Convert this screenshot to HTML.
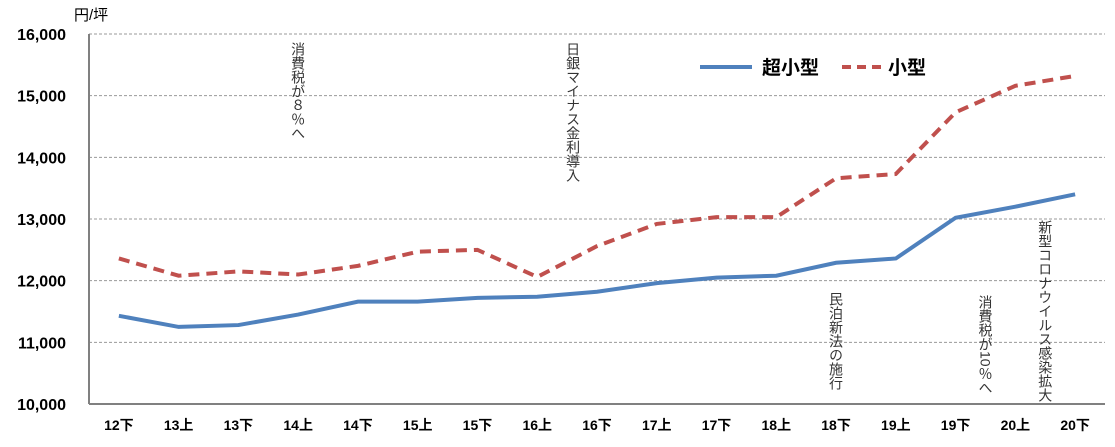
<!DOCTYPE html>
<html><head><meta charset="utf-8"><style>
body{margin:0;background:#fff;}
svg text{font-family:"Liberation Sans","Noto Sans CJK JP",sans-serif;}
.vt{writing-mode:vertical-rl;font-size:14px;fill:#333;}
</style></head><body>
<svg id="c" width="1115" height="442" xmlns="http://www.w3.org/2000/svg"></svg>
<script>
const categories=["12下","13上","13下","14上","14下","15上","15下","16上","16下","17上","17下","18上","18下","19上","19下","20上","20下"];
const superSmall=[11430,11250,11280,11450,11660,11660,11720,11740,11820,11960,12050,12080,12290,12360,13020,13200,13400];
const small=[12360,12080,12150,12100,12240,12470,12500,12060,12560,12920,13030,13030,13660,13730,14730,15160,15320];
const yTicks=[10000,11000,12000,13000,14000,15000,16000];
const yTickLabels=["10,000","11,000","12,000","13,000","14,000","15,000","16,000"];
const notes=[["消費税が８％へ",3.0,42],["日銀マイナス金利導入",7.6,42],["民泊新法の施行",12.0,292],["消費税が10％へ",14.5,295],["新型コロナウイルス感染拡大",15.5,220]];
const NS="http://www.w3.org/2000/svg",svg=document.getElementById('c');
const L=89,R=1105,T=34,B=404,ymin=10000,ymax=16000;
const bw=(R-L)/categories.length;
const x=i=>L+bw*(i+0.5);
const y=v=>B-(v-ymin)/(ymax-ymin)*(B-T);
function mk(t,a,p){const e=document.createElementNS(NS,t);for(const k in a)e.setAttribute(k,a[k]);(p||svg).appendChild(e);return e;}
yTicks.forEach((v,i)=>{
 if(v>ymin){const g=mk('line',{x1:L,x2:R,y1:y(v),y2:y(v),stroke:'#999','stroke-dasharray':'3,2','stroke-width':1});
 
 }
 const t=mk('text',{x:66,y:y(v)+6,'text-anchor':'end','font-size':16,'font-weight':'bold',fill:'#000'});t.textContent=yTickLabels[i];
 
 
});
const ax=mk('line',{x1:L,x2:L,y1:T,y2:B,stroke:'#808080','stroke-width':2});


const xa=mk('line',{x1:L,x2:R,y1:B,y2:B,stroke:'#808080','stroke-width':2});


categories.forEach((c,i)=>{const t=mk('text',{x:x(i),y:430,'text-anchor':'middle','font-size':14,'font-weight':'bold',fill:'#000'});t.textContent=c;
 
 });
const u=mk('text',{x:74,y:20,'font-size':15,fill:'#000'});u.textContent='円/坪';


const p1=mk('polyline',{points:small.map((v,i)=>x(i)+','+y(v)).join(' '),fill:'none',stroke:'#C0504D','stroke-width':4,'stroke-dasharray':'11,7'});


const p2=mk('polyline',{points:superSmall.map((v,i)=>x(i)+','+y(v)).join(' '),fill:'none',stroke:'#4F81BD','stroke-width':4});


notes.forEach(n=>{const t=mk('text',{x:x(0)+bw*n[1],y:n[2],class:'vt'});t.textContent=n[0];
 
 });
const lg=mk('g',{});


mk('line',{x1:700,x2:752,y1:67,y2:67,stroke:'#4F81BD','stroke-width':4},lg);
const l1=mk('text',{x:762,y:74,'font-size':19,'font-weight':'bold',fill:'#000'},lg);l1.textContent='超小型';


mk('line',{x1:842,x2:884,y1:67,y2:67,stroke:'#C0504D','stroke-width':4,'stroke-dasharray':'9,6'},lg);
const l2=mk('text',{x:888,y:74,'font-size':19,'font-weight':'bold',fill:'#000'},lg);l2.textContent='小型';


</script>
</body></html>
